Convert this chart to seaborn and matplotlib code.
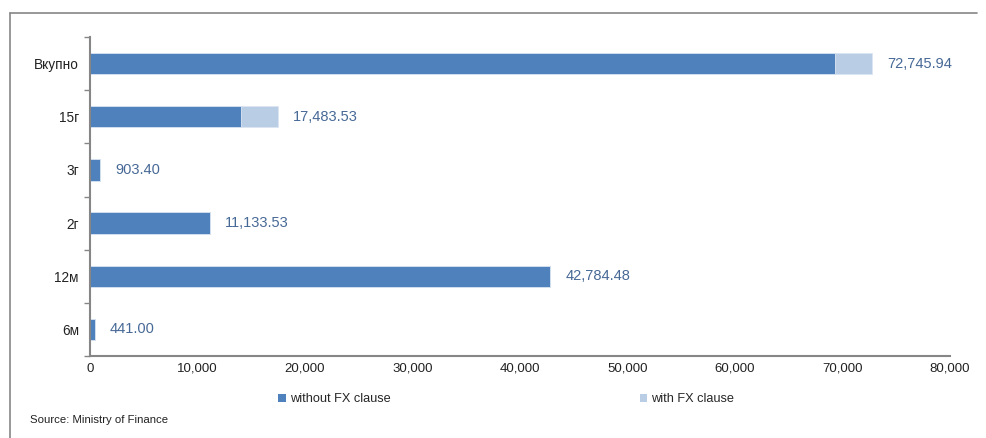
import matplotlib
matplotlib.use("Agg")
import matplotlib.pyplot as plt
from matplotlib.lines import Line2D
from matplotlib.patches import Patch
from matplotlib.ticker import FuncFormatter, FixedLocator
import numpy as np
import pandas as pd
import seaborn as sns

# Issued amounts by maturity (top to bottom)
categories = ["Вкупно", "15г", "3г", "2г", "12м", "6м"]
without_fx = [69309.41, 14047.00, 903.40, 11133.53, 42784.48, 441.00]
with_fx = [3436.53, 3436.53, 0.0, 0.0, 0.0, 0.0]
totals = [72745.94, 17483.53, 903.40, 11133.53, 42784.48, 441.00]
x_ticks = [0, 10000, 20000, 30000, 40000, 50000, 60000, 70000, 80000]

dark_blue = "#4F81BD"
light_blue = "#B9CDE5"
label_color = "#476996"
axis_grey = "#868686"

sns.set_theme(style="white")
plt.rcParams["font.family"] = ["Liberation Sans Narrow", "Liberation Sans", "DejaVu Sans"]

df = pd.DataFrame({"category": categories, "without": without_fx,
                   "with": with_fx, "total": totals})

fig = plt.figure(figsize=(9.87, 4.38), dpi=100)
ax = fig.add_axes([0.0912, 0.1872, 0.8713, 0.7283])

# Full bar (with FX clause part shows beyond the dark segment)
sns.barplot(data=df, y="category", x="total", order=categories, color=light_blue,
            width=0.4, saturation=1, ax=ax, orient="h", edgecolor="#DCE6F2",
            linewidth=0.6)
sns.barplot(data=df, y="category", x="without", order=categories, color=dark_blue,
            width=0.4, saturation=1, ax=ax, orient="h", edgecolor="#DCE6F2",
            linewidth=0.6)

for i, v in enumerate(totals):
    ax.annotate(f"{v:,.2f}", xy=(v, i), xytext=(11, 0), textcoords="offset points",
                va="center", ha="left", fontsize=10.5, color=label_color)

ax.set_xlim(0, 80000)
ax.set_ylim(len(categories) - 0.5, -0.5)
ax.set_xlabel("")
ax.set_ylabel("")

ax.xaxis.set_major_locator(FixedLocator(x_ticks))
ax.xaxis.set_major_formatter(FuncFormatter(lambda v, p: f"{v:,.0f}"))
ax.tick_params(axis="x", which="major", direction="in", length=3, width=1,
               color=axis_grey, labelsize=9.5, labelcolor="#222222", pad=5)

ax.set_yticks(range(len(categories)))
ax.set_yticklabels(categories)
ax.yaxis.set_minor_locator(FixedLocator(np.arange(-0.5, len(categories), 1.0)))
ax.tick_params(axis="y", which="major", length=0, labelsize=9.8,
               labelcolor="#222222", pad=8)
ax.tick_params(axis="y", which="minor", direction="out", length=4, width=1,
               color=axis_grey, left=True)

for side in ["top", "right"]:
    ax.spines[side].set_visible(False)
for side in ["left", "bottom"]:
    ax.spines[side].set_color(axis_grey)
    ax.spines[side].set_linewidth(1.5)

# Legend below the axis
handles = [Patch(facecolor=dark_blue, edgecolor="none", label="without FX clause"),
           Patch(facecolor=light_blue, edgecolor="none", label="with FX clause")]
fig.legend(handles=handles, loc="center", bbox_to_anchor=(0.513, 0.088), ncol=2,
           frameon=False, fontsize=9.2, handlelength=0.6, handleheight=0.6,
           handletextpad=0.3, columnspacing=19.5)

fig.text(0.03, 0.04, "Source: Ministry of Finance", fontsize=8.2,
         color="#222222", ha="left", va="center")

# Frame lines around the panel
fig.add_artist(Line2D([0.0101, 0.99], [0.97, 0.97], color=axis_grey, lw=1.2,
                      transform=fig.transFigure))
fig.add_artist(Line2D([0.0101, 0.0101], [0.0, 0.97], color=axis_grey, lw=1.2,
                      transform=fig.transFigure))

fig.savefig("out.png", dpi=100)
